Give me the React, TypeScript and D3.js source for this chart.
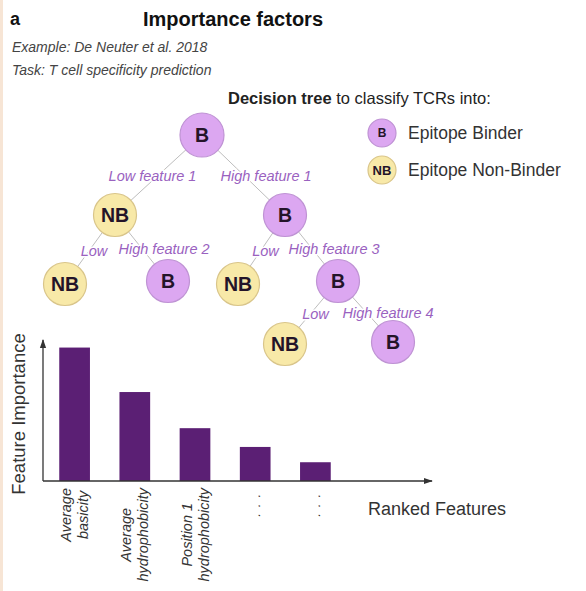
import { useEffect, useRef } from 'react';
import * as d3 from 'd3';

// bar chart data
const features = ['Average basicity', 'Average hydrophobicity', 'Position 1 hydrophobicity', 'feature 4', 'feature 5'];
const featureTicks = [['Average', 'basicity'], ['Average', 'hydrophobicity'], ['Position 1', 'hydrophobicity'], ['...'], ['...']];
const importance = [0.96, 0.64, 0.38, 0.245, 0.135];

// decision tree
const nodeClass = ['B', 'NB', 'B', 'NB', 'B', 'NB', 'B', 'NB', 'B'];
const nodeParent = [-1, 0, 0, 1, 1, 2, 2, 6, 6];
const branchText = ['', 'Low feature 1', 'High feature 1', 'Low', 'High feature 2', 'Low', 'High feature 3', 'Low', 'High feature 4'];

// legend
const legendKeys = ['B', 'NB'];
const legendNames = ['Epitope Binder', 'Epitope Non-Binder'];

// schematic layout of the tree (pixels)
const nodeX = [202, 115, 285, 65, 168, 238, 338, 285, 393];
const nodeY = [135, 215, 215, 284, 281, 284, 281, 344, 342];

const W = 586;
const H = 591;
const FONT = '"Liberation Sans", Arial, Helvetica, sans-serif';
const fill = { B: '#dca7f1', NB: '#f8e9a8' };
const stroke = { B: '#bf93d4', NB: '#d9c58a' };

export default function App() {
  const ref = useRef<SVGSVGElement>(null);

  useEffect(() => {
    if (!ref.current) return;
    const svg = d3.select(ref.current);
    svg.selectAll('*').remove();

    svg.append('rect').attr('width', W).attr('height', H).attr('fill', '#fff');
    svg.append('rect').attr('x', 0).attr('width', 3).attr('height', H).attr('fill', '#f7e5d5');

    // header
    svg.append('text').attr('x', 10).attr('y', 25).attr('font-family', FONT).attr('font-weight', 'bold')
      .attr('font-size', 18).attr('fill', '#111').text('a');
    svg.append('text').attr('x', 233).attr('y', 26).attr('text-anchor', 'middle').attr('font-family', FONT)
      .attr('font-weight', 'bold').attr('font-size', 20).attr('fill', '#111').text('Importance factors');
    const sub = ['Example: De Neuter et al. 2018', 'Task: T cell specificity prediction'];
    svg.selectAll('text.sub').data(sub).join('text').attr('class', 'sub')
      .attr('x', 12).attr('y', (_, i) => 52 + i * 23).attr('font-family', FONT).attr('font-style', 'italic')
      .attr('font-size', 14).attr('fill', '#444').text((d) => d);

    // legend
    const lt = svg.append('text').attr('x', 228).attr('y', 104).attr('font-family', FONT)
      .attr('font-size', 16.5).attr('fill', '#222');
    lt.append('tspan').attr('font-weight', 'bold').text('Decision tree');
    lt.append('tspan').text(' to classify TCRs into:');
    const lg = svg.selectAll('g.leg').data(legendKeys).join('g').attr('class', 'leg')
      .attr('transform', (_, i) => `translate(382,${133 + i * 37})`);
    lg.append('circle').attr('r', 14).attr('fill', (d) => fill[d]).attr('stroke', (d) => stroke[d]).attr('stroke-width', 1.2);
    lg.append('text').attr('text-anchor', 'middle').attr('dy', '0.36em').attr('font-family', FONT)
      .attr('font-weight', 'bold').attr('font-size', (d) => (d === 'B' ? 12 : 13)).attr('fill', '#241429').text((d) => d);
    lg.append('text').attr('x', 26).attr('dy', '0.36em').attr('font-family', FONT).attr('font-size', 17.5)
      .attr('fill', '#333').text((_, i) => legendNames[i]);

    // tree edges
    const idx = d3.range(nodeClass.length);
    const child = idx.filter((i) => nodeParent[i] >= 0);
    svg.selectAll('line.edge').data(child).join('line').attr('class', 'edge')
      .attr('x1', (i) => nodeX[nodeParent[i]]).attr('y1', (i) => nodeY[nodeParent[i]])
      .attr('x2', (i) => nodeX[i]).attr('y2', (i) => nodeY[i])
      .attr('stroke', '#bdbdbd').attr('stroke-width', 1);

    // branch labels at edge midpoints
    svg.selectAll('text.branch').data(child).join('text').attr('class', 'branch')
      .attr('x', (i) => {
        const mx = (nodeX[i] + nodeX[nodeParent[i]]) / 2;
        const isLow = branchText[i].startsWith('Low');
        if (isLow) return branchText[i] === 'Low' ? mx + 4 : mx - 6;
        return mx - 23;
      })
      .attr('y', (i) => (nodeY[i] + nodeY[nodeParent[i]]) / 2 + 1)
      .attr('dy', '0.35em')
      .attr('text-anchor', (i) => (branchText[i].startsWith('Low') ? 'middle' : 'start'))
      .attr('font-family', FONT).attr('font-style', 'italic').attr('font-size', 14.5)
      .attr('fill', '#9a62bf').attr('stroke', '#fff').attr('stroke-width', 3).attr('paint-order', 'stroke')
      .text((i) => branchText[i]);

    // tree nodes
    const ng = svg.selectAll('g.node').data(idx).join('g').attr('class', 'node')
      .attr('transform', (i) => `translate(${nodeX[i]},${nodeY[i]})`);
    ng.append('circle').attr('r', (i) => (i === 0 ? 22 : 21.5))
      .attr('fill', (i) => fill[nodeClass[i]]).attr('stroke', (i) => stroke[nodeClass[i]]).attr('stroke-width', 1.2);
    ng.append('text').attr('text-anchor', 'middle').attr('dy', '0.36em').attr('font-family', FONT)
      .attr('font-weight', 'bold').attr('font-size', 19.5).attr('fill', '#241429').text((i) => nodeClass[i]);

    // bar chart
    const x0 = 43;
    const yBase = 481;
    const x = d3.scaleBand().domain(features).range([x0, 347]).paddingInner(0.49).paddingOuter(0.27);
    const y = d3.scaleLinear().domain([0, 1]).range([yBase, 342]);

    svg.selectAll('rect.bar').data(features).join('rect').attr('class', 'bar')
      .attr('x', (d) => x(d) ?? 0).attr('y', (_, i) => y(importance[i]))
      .attr('width', x.bandwidth()).attr('height', (_, i) => yBase - y(importance[i]))
      .attr('fill', '#5b1f74');

    const defs = svg.append('defs');
    defs.append('marker').attr('id', 'arr').attr('viewBox', '0 0 10 10').attr('refX', 9).attr('refY', 5)
      .attr('markerWidth', 7).attr('markerHeight', 7).attr('orient', 'auto-start-reverse')
      .append('path').attr('d', 'M0,1.5L10,5L0,8.5Z').attr('fill', '#333');
    svg.append('line').attr('x1', x0).attr('y1', yBase).attr('x2', x0).attr('y2', 340)
      .attr('stroke', '#333').attr('stroke-width', 1.3).attr('marker-end', 'url(#arr)');
    svg.append('line').attr('x1', x0).attr('y1', yBase).attr('x2', 432).attr('y2', yBase)
      .attr('stroke', '#333').attr('stroke-width', 1.3).attr('marker-end', 'url(#arr)');

    // rotated tick labels, block top aligned just below the axis
    const labelTop = 488;
    const tg = svg.selectAll('g.tick').data(features).join('g').attr('class', 'tick');
    tg.each(function (d, i) {
      const lines = featureTicks[i];
      const g = d3.select(this);
      const dots = lines[0] === '...';
      const t = g.append('text').attr('text-anchor', 'middle').attr('font-family', FONT)
        .attr('font-style', 'italic').attr('font-size', dots ? 13 : 14.5).attr('fill', '#333')
        .attr('letter-spacing', dots ? 6 : 0);
      lines.forEach((ln, j) => {
        t.append('tspan').attr('x', 0).attr('y', (j - (lines.length - 1) / 2) * 17 + 5).text(ln);
      });
      const len = d3.max(t.selectAll<SVGTSpanElement, unknown>('tspan').nodes(), (n) => n.getComputedTextLength()) ?? 0;
      const cx = (x(d) ?? 0) + x.bandwidth() / 2;
      g.attr('transform', `translate(${cx},${labelTop + len / 2}) rotate(-90)`);
    });

    svg.append('text').attr('transform', `translate(25,414) rotate(-90)`).attr('text-anchor', 'middle')
      .attr('font-family', FONT).attr('font-size', 18.5).attr('fill', '#333').text('Feature Importance');
    svg.append('text').attr('x', 368).attr('y', 515).attr('font-family', FONT).attr('font-size', 18)
      .attr('fill', '#333').text('Ranked Features');
  }, []);

  return (
    <svg ref={ref} width={W} height={H} style={{ position: 'absolute', left: 0, top: 0, display: 'block' }} />
  );
}
